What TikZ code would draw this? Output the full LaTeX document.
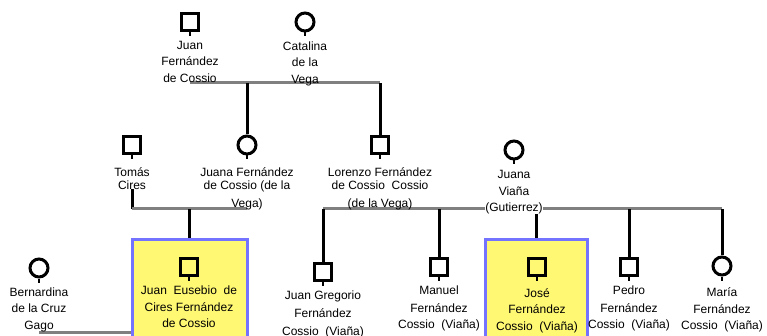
\documentclass[tikz,border=0pt]{standalone}
\usepackage{fontspec}
\setmainfont{Liberation Sans}
\usetikzlibrary{positioning}
\usetikzlibrary{backgrounds}

\tikzset{
  male/.style={draw, line width=3pt, minimum size=17pt, inner sep=0pt},
  female/.style={draw, circle, line width=3pt, minimum size=18pt, inner sep=0pt},
  who/.style={font=\fontsize{12}{16.5}\selectfont, align=center, inner sep=0pt, anchor=north},
  whoback/.style={who, fill=white},
  couple/.style={draw=black!50, line width=3pt},
  descent/.style={draw=black, line width=3pt},
  focus/.style={draw=blue!55, fill=yellow!55, line width=3pt, anchor=north, inner sep=0pt}
}

\begin{document}
\begin{tikzpicture}[x=1pt, y=-1pt]
\path[use as bounding box, clip] (0, 0) rectangle (767, 336);

% highlighted persons
\node[focus, minimum width=115pt, minimum height=120pt] (jecbox) at (189.5, 238) {};
\node[focus, minimum width=102pt, minimum height=120pt] (jfcvbox) at (536, 238) {};

% persons: name/x/y/shape/gap/label style/label
\foreach \n/\x/\y/\s/\g/\w/\t in {
  jfc/190/22/male/9/who/{Juan\\Fernández\\de Cossio},
  cv/305/22/female/9/who/{Catalina\\de la\\Vega},
  tc/132/145/male/12/who/{Tomás\\[-3.5pt]Cires},
  jfcv/247/145/female/12/who/{Juana Fernández\\[-3.5pt]de Cossio (de la\\[1.5pt]Vega)},
  lfc/380/145/male/12/who/{Lorenzo Fernández\\[-3.5pt]de Cossio~ Cossio\\[1.5pt](de la Vega)},
  jv/514/150/female/10/whoback/{Juana\\Viaña\\(Gutierrez)},
  bcg/39/268/female/9/who/{Bernardina\\de la Cruz\\Gago},
  jec/189/267/male/9/who/{Juan~ Eusebio~ de\\Cires Fernández\\de Cossio},
  jgf/323/272/male/9/who/{Juan Gregorio\\[1.5pt]Fernández\\[1pt]Cossio~ (Viaña)},
  mfc/439/267/male/9/who/{Manuel\\[1pt]Fernández\\Cossio~ (Viaña)},
  jofc/537/267/male/11/who/{José\\Fernández\\Cossio~ (Viaña)},
  pfc/629/267/male/9/who/{Pedro\\[1pt]Fernández\\Cossio~ (Viaña)},
  mafc/722/266/female/11/who/{María\\Fernández\\Cossio~ (Viaña)}} {
  \node[\s] (\n) at (\x, \y) {};
  \draw[line width=2pt] (\n.south) -- ++(0, 4);
  \node[\w, below=\g pt of \n] (\n-l) {\t};
}

\begin{scope}[on background layer]
% first generation
\draw[couple] (jfc-l.south) -- (jfc-l.south -| lfc);
\draw[descent] (jfcv.north) -- (jfcv.north |- jfc-l.south);
\draw[descent] (lfc.north) -- (lfc.north |- jfc-l.south);

% Tomás and Juana
\coordinate (tcj) at (0, 209);
\draw[descent] (tc-l.south) -- (tc-l.south |- tcj);
\draw[couple] (tc-l.south |- tcj) -- (jfcv |- tcj);
\draw[descent] (jecbox.north) -- (jecbox.north |- tcj);

% Lorenzo and Juana Viaña
\draw[couple] (jgf |- tcj) -- (mafc |- tcj);
\foreach \c in {jgf, mfc, mafc, pfc} {
  \draw[descent] (\c.north) -- (\c.north |- tcj);
}
\draw[descent] (jfcvbox.north) -- (jfcvbox.north |- tcj);

% Juan Eusebio and Bernardina
\coordinate (jeb) at (0, 332);
\draw[couple] (bcg |- jeb) -- (jecbox.west |- jeb);
\end{scope}
\end{tikzpicture}
\end{document}
